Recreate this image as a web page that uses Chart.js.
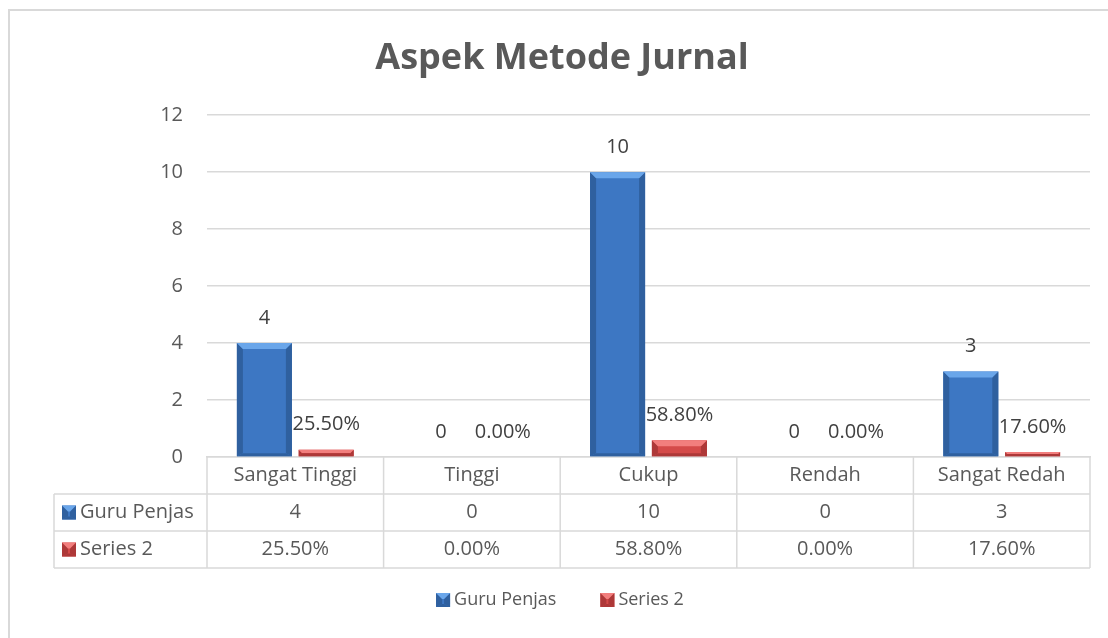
<!DOCTYPE html>
<html>
<head>
<meta charset="utf-8">
<script src="https://cdn.jsdelivr.net/npm/chart.js@4/dist/chart.umd.min.js"></script>
<style>
  html, body { margin: 0; padding: 0; background: #fff; }
  #wrap { position: relative; width: 1108px; height: 638px; }
</style>
</head>
<body>
<div id="wrap"><canvas id="chart" width="1108" height="638"></canvas></div>
<script>
'use strict';

// --- DATA ---
const categories = ['Sangat Tinggi', 'Tinggi', 'Cukup', 'Rendah', 'Sangat Redah'];
const guruPenjas = [4, 0, 10, 0, 3];
const series2 = [0.255, 0, 0.588, 0, 0.176];
const yTicks = [0, 2, 4, 6, 8, 10, 12];

const FONT = '"Open Sans", "Noto Sans", sans-serif';
const TEXT = '#595959';
const LINE = '#d9d9d9';

const fmtGuru = v => String(v);
const fmtSeries2 = v => (v * 100).toFixed(2) + '%';

const palette = [
    { face: '#3d77c3', light: '#6aa6ea', dark: '#2f609f', bottom: '#2f609f' },
    { face: '#d44a49', light: '#f27e7d', dark: '#ad3838', bottom: '#ad3838' }
];

// --- PLUGINS ---
const frame = {
    id: 'frame',
    beforeDraw(chart) {
        const ctx = chart.ctx;
        ctx.save();
        ctx.strokeStyle = LINE;
        ctx.lineWidth = 2;
        ctx.strokeRect(9, 10, 1120, 700);
        ctx.restore();
    }
};

function bevel(ctx, el, p) {
    const l = el.x - el.width / 2, r = el.x + el.width / 2;
    const t = Math.min(el.y, el.base), b = Math.max(el.y, el.base);
    const h = b - t;
    if (h <= 0) return;
    const s = Math.min(6, h / 2);
    const poly = (pts, c) => {
        ctx.beginPath();
        ctx.moveTo(pts[0][0], pts[0][1]);
        for (let i = 1; i < pts.length; i++) ctx.lineTo(pts[i][0], pts[i][1]);
        ctx.closePath();
        ctx.fillStyle = c;
        ctx.fill();
    };
    const sb = Math.min(3, s);
    poly([[l, t], [l + s, t + s], [l + s, b - sb], [l, b]], p.dark);
    poly([[r, t], [r - s, t + s], [r - s, b - sb], [r, b]], p.dark);
    poly([[l, b], [l + s, b - sb], [r - s, b - sb], [r, b]], p.bottom);
    poly([[l, t], [r, t], [r - s, t + s], [l + s, t + s]], p.light);
}

const barLook = {
    id: 'barLook',
    afterDatasetsDraw(chart) {
        const ctx = chart.ctx;
        ctx.save();
        chart.data.datasets.forEach((ds, di) => {
            const meta = chart.getDatasetMeta(di);
            const fmt = di === 0 ? fmtGuru : fmtSeries2;
            meta.data.forEach((el, i) => {
                bevel(ctx, el, palette[di]);
                ctx.fillStyle = '#404040';
                ctx.font = '20px ' + FONT;
                ctx.textAlign = 'center';
                ctx.textBaseline = 'middle';
                ctx.fillText(fmt(ds.data[i]), el.x, el.y - 25);
            });
        });
        ctx.restore();
    }
};

function swatch(ctx, x, y, p) {
    const w = 14;
    ctx.fillStyle = p.face;
    ctx.fillRect(x, y, w, w);
    bevel(ctx, { x: x + w / 2, width: w, y: y, base: y + w }, p);
}

const dataTable = {
    id: 'dataTable',
    afterDraw(chart) {
        const ctx = chart.ctx;
        const area = chart.chartArea;
        const xs = chart.scales.x;
        const n = categories.length;
        const cw = (area.right - area.left) / n;
        const rowH = 37;
        const top = area.bottom;
        const leftCol = 54;
        ctx.save();
        ctx.strokeStyle = LINE;
        ctx.lineWidth = 1.5;
        ctx.beginPath();
        for (let r = 1; r <= 3; r++) {
            ctx.moveTo(leftCol, top + rowH * r);
            ctx.lineTo(area.right, top + rowH * r);
        }
        for (let i = 0; i <= n; i++) {
            const x = area.left + cw * i;
            ctx.moveTo(x, top); ctx.lineTo(x, top + rowH * 3);
        }
        ctx.moveTo(leftCol, top + rowH); ctx.lineTo(leftCol, top + rowH * 3);
        ctx.stroke();

        ctx.fillStyle = TEXT;
        ctx.font = '20px ' + FONT;
        ctx.textAlign = 'center';
        ctx.textBaseline = 'middle';
        categories.forEach((c, i) => {
            const cx = xs.getPixelForValue(i);
            ctx.fillText(c, cx, top + rowH * 0.5);
            ctx.fillText(fmtGuru(guruPenjas[i]), cx, top + rowH * 1.5);
            ctx.fillText(fmtSeries2(series2[i]), cx, top + rowH * 2.5);
        });
        ctx.textAlign = 'left';
        chart.data.datasets.forEach((ds, di) => {
            const cy = top + rowH * (1.5 + di);
            swatch(ctx, 62, cy - 7, palette[di]);
            ctx.fillStyle = TEXT;
            ctx.fillText(ds.label, 80, cy);
        });

        // legend under the table
        ctx.font = '18px ' + FONT;
        const items = chart.data.datasets.map(ds => 14 + 4 + ctx.measureText(ds.label).width);
        const gap = 44;
        const total = items.reduce((a, b) => a + b, 0) + gap * (items.length - 1);
        let lx = 560 - total / 2;
        const ly = 600;
        chart.data.datasets.forEach((ds, di) => {
            swatch(ctx, lx, ly - 7, palette[di]);
            ctx.fillStyle = TEXT;
            ctx.fillText(ds.label, lx + 18, ly);
            lx += items[di] + gap;
        });
        ctx.restore();
    }
};

// --- CHART ---
new Chart(document.getElementById('chart'), {
    type: 'bar',
    data: {
        labels: categories,
        datasets: [
            { label: 'Guru Penjas', data: guruPenjas, backgroundColor: palette[0].face },
            { label: 'Series 2', data: series2, backgroundColor: palette[1].face }
        ]
    },
    options: {
        responsive: false,
        animation: false,
        categoryPercentage: 0.70,
        barPercentage: 0.89,
        layout: { padding: { left: 34, right: 18, top: 0, bottom: 58 } },
        plugins: {
            title: {
                display: true,
                text: 'Aspek Metode Jurnal',
                color: TEXT,
                font: { family: FONT, size: 36, weight: 'bold' },
                padding: { top: 37, bottom: 35 }
            },
            legend: { display: false },
            tooltip: { enabled: false }
        },
        scales: {
            x: {
                grid: { display: false },
                border: { display: true, color: LINE, width: 1.5 },
                ticks: { display: false },
                afterFit(s) { s.height = 123; }
            },
            y: {
                min: 0,
                max: 12,
                afterBuildTicks(s) { s.ticks = yTicks.map(v => ({ value: v })); },
                grid: { color: LINE, lineWidth: 1.5, drawTicks: false },
                border: { display: false },
                ticks: {
                    color: TEXT,
                    font: { family: FONT, size: 20 },
                    padding: 24
                },
                afterFit(s) { s.width = 173; }
            }
        }
    },
    plugins: [frame, barLook, dataTable]
});
</script>
</body>
</html>
